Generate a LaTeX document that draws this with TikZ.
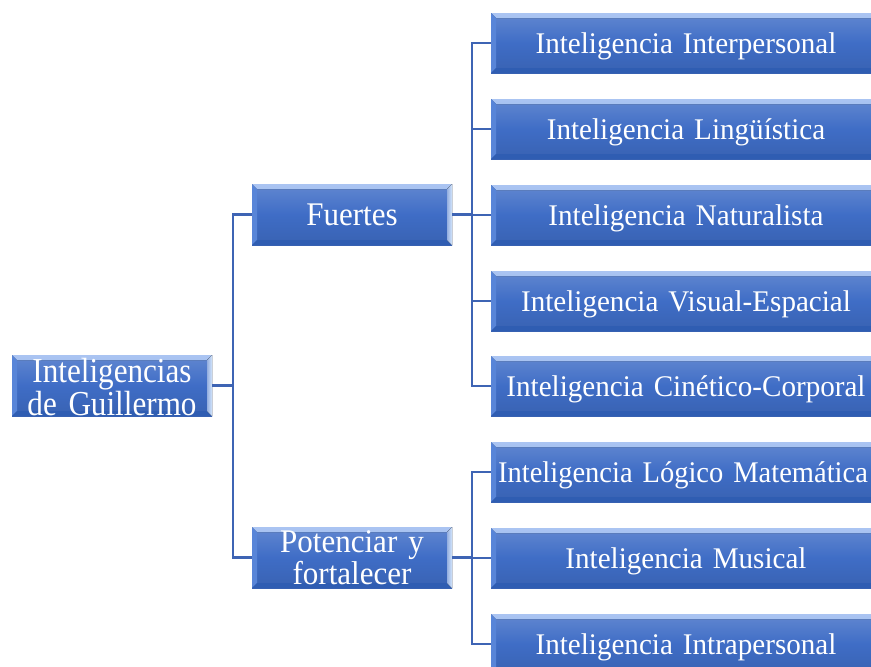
\documentclass[tikz,border=0pt]{standalone}
\usepackage{fontspec}
\setmainfont{Liberation Serif}
\newfontfamily\rootf[FakeStretch=0.89,WordSpace=0.8]{Liberation Serif}
\newfontfamily\midf[FakeStretch=0.94,WordSpace=0.8]{Liberation Serif}
\newfontfamily\leaff[FakeStretch=0.97,WordSpace=0.8]{Liberation Serif}
\newfontfamily\leafn[FakeStretch=0.95,WordSpace=0.8]{Liberation Serif}
\definecolor{boxmain}{HTML}{3F6DC6}
\definecolor{boxtop}{HTML}{86ABEC}
\definecolor{boxleft}{HTML}{5885D8}
\definecolor{boxright}{HTML}{D4E6FC}
\definecolor{boxbottom}{HTML}{2F5DB2}
\definecolor{linkc}{HTML}{3E64B4}
\tikzset{
  bev/.style={
    draw=none, text=white, align=center,
    inner sep=0pt, top color=boxmain!82!white, bottom color=boxmain!90!black, middle color=boxmain,
    path picture={
      \def\bw{5pt}
      \fill[top color=boxtop!70!white, bottom color=boxtop] (path picture bounding box.north west) -- (path picture bounding box.north east)
        -- ([xshift=-\bw,yshift=-\bw]path picture bounding box.north east) -- ([xshift=\bw,yshift=-\bw]path picture bounding box.north west) -- cycle;
      \fill[boxleft] (path picture bounding box.north west) -- ([xshift=\bw,yshift=-\bw]path picture bounding box.north west)
        -- ([xshift=\bw,yshift=\bw]path picture bounding box.south west) -- (path picture bounding box.south west) -- cycle;
      \fill[boxbottom] (path picture bounding box.south west) -- ([xshift=\bw,yshift=\bw]path picture bounding box.south west)
        -- ([xshift=-\bw,yshift=\bw]path picture bounding box.south east) -- (path picture bounding box.south east) -- cycle;
      \fill[left color=boxmain!55!white, right color=boxright] (path picture bounding box.north east) -- ([xshift=-\bw,yshift=-\bw]path picture bounding box.north east)
        -- ([xshift=-\bw,yshift=\bw]path picture bounding box.south east) -- (path picture bounding box.south east) -- cycle;
    }
  },
  rootbox/.style={bev, minimum width=200pt, minimum height=61pt, text width=198pt,
    font=\rootf\fontsize{35}{30}\selectfont, text height=24pt, text depth=30pt},
  midbox/.style={bev, minimum width=200pt, minimum height=61pt, text width=198pt,
    font=\midf\fontsize{33}{32}\selectfont},
  midone/.style={midbox, text height=22pt, text depth=0pt},
  midtwo/.style={midbox, text height=21pt, text depth=32pt},
  leafbox/.style={bev, minimum width=390pt, minimum height=60pt, text width=388pt,
    font=\leaff\fontsize{30}{30}\selectfont, text height=20pt, text depth=0pt},
  link/.style={draw=linkc, line width=2.8pt}
}
\begin{document}
\begin{tikzpicture}[x=1pt,y=1pt]
\useasboundingbox (0,0) rectangle (871,-667);
\clip (0,0) rectangle (871,-667);
\fill[white] (0,0) rectangle (871,-667);

\node[rootbox] (root) at (112,-385.5) {Inteligencias\\de Guillermo};
\node[midone] (fue) at (352,-214.5) {Fuertes};
\node[midtwo] (pot) at (352,-557.5) {Potenciar y\\fortalecer};

\node[leafbox] (l1) at (686,-43) {Inteligencia Interpersonal};
\node[leafbox] (l2) at (686,-129) {Inteligencia Lingüística};
\node[leafbox] (l3) at (686,-215) {Inteligencia Naturalista};
\node[leafbox] (l4) at (686,-301) {Inteligencia Visual-Espacial};
\node[leafbox] (l5) at (686,-386) {Inteligencia Cinético-Corporal};
\node[leafbox, font=\leafn\fontsize{30}{30}\selectfont] (l6) at (686,-472) {\hspace*{-6pt}Inteligencia Lógico Matemática};
\node[leafbox] (l7) at (686,-558) {Inteligencia Musical};
\node[leafbox] (l8) at (686,-644) {Inteligencia Intrapersonal};

\coordinate (jr) at (233,0);
\coordinate (jm) at (472,0);
\foreach \t in {fue,pot}
  \draw[link] (root.east) -| (jr |- \t.west) -- (\t.west);
\foreach \t in {l1,l2,l3,l4,l5}
  \draw[link] (fue.east) -| (jm |- \t.west) -- (\t.west);
\foreach \t in {l6,l7,l8}
  \draw[link] (pot.east) -| (jm |- \t.west) -- (\t.west);
\end{tikzpicture}
\end{document}
